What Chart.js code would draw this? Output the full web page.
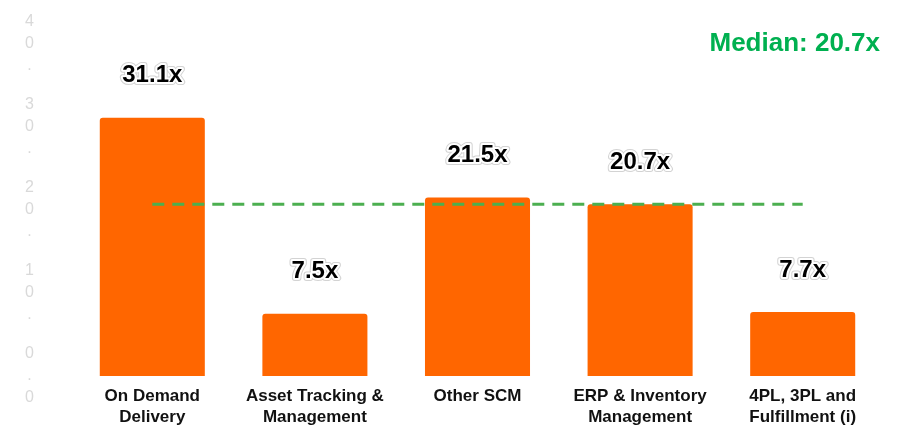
<!DOCTYPE html>
<html>
<head>
<meta charset="utf-8">
<script src="https://cdn.jsdelivr.net/npm/chart.js@4.4.1/dist/chart.umd.min.js"></script>
<style>
  html, body { margin: 0; padding: 0; background: #ffffff; }
  #wrap { width: 897px; height: 425px; position: relative; }
</style>
</head>
<body>
<div id="wrap"><canvas id="chart"></canvas></div>
<script>
// EV / multiple by sub-sector
const categories = [
  ['On Demand', 'Delivery'],
  ['Asset Tracking &', 'Management'],
  ['Other SCM'],
  ['ERP & Inventory', 'Management'],
  ['4PL, 3PL and', 'Fulfillment (i)']
];
const multiples = [31.1, 7.5, 21.5, 20.7, 7.7];
const medianValue = 20.7;
const medianLine = [20.7, 20.7, 20.7, 20.7, 20.7];
const yTicks = [0, 10, 20, 30, 40];

const FONT = '"Liberation Sans", Arial, sans-serif';

// value labels above each bar, plus the median caption
const annotate = {
  id: 'annotate',
  afterDatasetsDraw(chart) {
    const ctx = chart.ctx;
    const meta = chart.getDatasetMeta(1);
    ctx.save();
    ctx.font = 'bold 24px ' + FONT;
    ctx.textAlign = 'center';
    ctx.textBaseline = 'middle';
    ctx.lineJoin = 'round';
    meta.data.forEach((bar, i) => {
      const text = multiples[i].toFixed(1) + 'x';
      const y = bar.y - 42;
      ctx.strokeStyle = 'rgba(200,200,200,0.8)';
      ctx.lineWidth = 6;
      ctx.strokeText(text, bar.x, y);
      ctx.strokeStyle = '#ffffff';
      ctx.lineWidth = 4;
      ctx.strokeText(text, bar.x, y);
      ctx.fillStyle = '#000000';
      ctx.fillText(text, bar.x, y);
    });
    ctx.font = 'bold 26px ' + FONT;
    ctx.textAlign = 'right';
    ctx.fillStyle = '#00B050';
    ctx.fillText('Median: ' + medianValue.toFixed(1) + 'x', 880, 44);
    ctx.restore();
  }
};

new Chart(document.getElementById('chart'), {
  data: {
    labels: categories,
    datasets: [
      {
        type: 'line',
        label: 'Median',
        data: medianLine,
        borderColor: '#4CAF50',
        borderWidth: 3,
        borderDash: [12, 8],
        pointRadius: 0,
        fill: false,
        order: 0
      },
      {
        type: 'bar',
        label: 'Multiple',
        data: multiples,
        backgroundColor: '#FF6600',
        borderRadius: 3,
        barPercentage: 0.646,
        categoryPercentage: 1,
        order: 1
      }
    ]
  },
  options: {
    responsive: true,
    maintainAspectRatio: false,
    animation: false,
    layout: { padding: { top: 44, right: 13, left: 0, bottom: 0 } },
    plugins: {
      legend: { display: false },
      tooltip: { enabled: false }
    },
    scales: {
      x: {
        grid: { display: false, drawTicks: false },
        border: { display: false },
        ticks: {
          color: '#111111',
          padding: 9.5,
          maxRotation: 0,
          autoSkip: false,
          font: { family: FONT, size: 17, weight: 'bold', lineHeight: 21 / 17 }
        },
        afterFit(scale) {
          scale.height = 49;
          scale.paddingLeft = 0;
          scale.paddingRight = 0;
        }
      },
      y: {
        min: 0,
        max: 40,
        grid: { display: false, drawTicks: false },
        border: { display: false },
        afterBuildTicks(scale) { scale.ticks = yTicks.map(v => ({ value: v })); },
        ticks: {
          color: '#d9d9d9',
          crossAlign: 'center',
          padding: 37,
          font: { family: FONT, size: 16, lineHeight: 22 / 16 },
          callback: (v) => Number(v).toFixed(1).slice(0, 3).split('')
        },
        afterFit(scale) {
          scale.width = 71;
          scale.paddingTop = 0;
          scale.paddingBottom = 0;
        }
      }
    }
  },
  plugins: [annotate]
});
</script>
</body>
</html>
